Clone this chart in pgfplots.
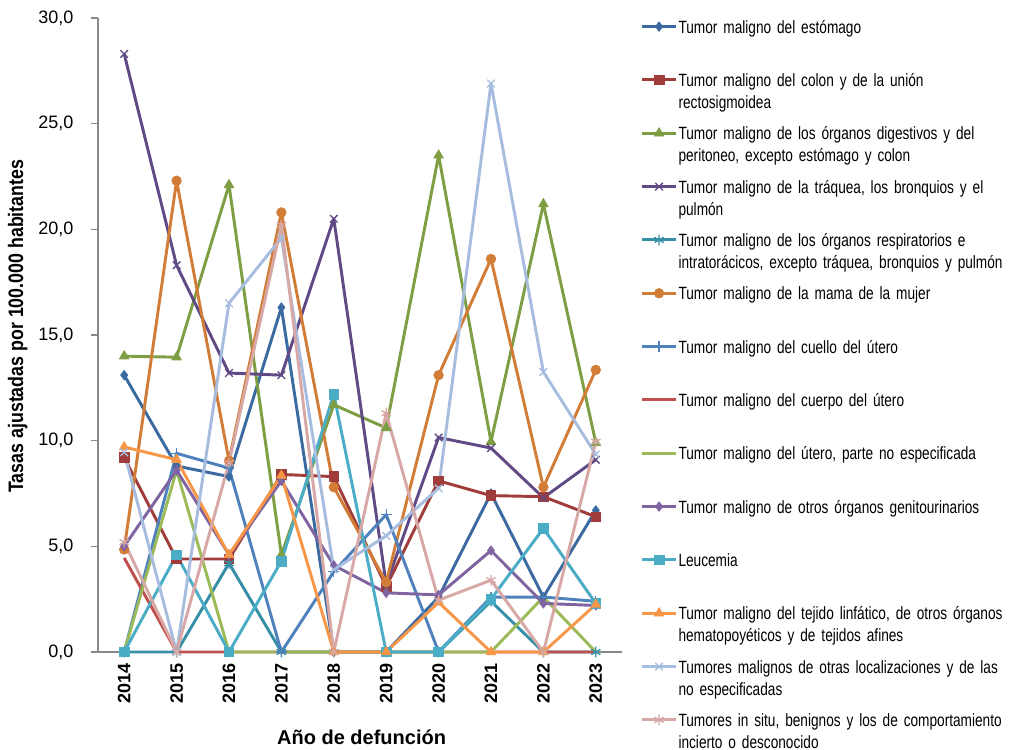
\documentclass[border=0pt]{standalone}
\usepackage{pgfplots}
\pgfplotsset{compat=1.18}
\usepackage{fontspec}
\setmainfont{Liberation Sans}
\newfontfamily\narrow{Liberation Sans}[FakeStretch=0.77]
\newfontfamily\narrowb{Liberation Sans}[FakeStretch=0.85]

\definecolor{c1}{HTML}{3B6AA0}
\definecolor{c2}{HTML}{A03C3A}
\definecolor{c3}{HTML}{7E9E44}
\definecolor{c4}{HTML}{5F4A86}
\definecolor{c5}{HTML}{368FA6}
\definecolor{c6}{HTML}{D27D37}
\definecolor{c7}{HTML}{4F81BD}
\definecolor{c8}{HTML}{C0504D}
\definecolor{c9}{HTML}{9BBB59}
\definecolor{c10}{HTML}{8064A2}
\definecolor{c11}{HTML}{4BACC6}
\definecolor{c12}{HTML}{F79646}
\definecolor{c13}{HTML}{A7BDE0}
\definecolor{c14}{HTML}{D8A8A6}
\definecolor{axgray}{HTML}{888888}

\begin{document}
\begin{tikzpicture}
\useasboundingbox (-73.5pt,-73.5pt) rectangle (696pt,489pt);
\begin{axis}[
    at={(0pt,0pt)}, anchor=south west,
    scale only axis,
    width=393pt, height=475.5pt,
    xmin=2013.5, xmax=2023.5,
    ymin=0, ymax=30,
    axis x line*=bottom, axis y line*=left,
    axis line style={axgray, line width=0.8pt},
    xtick={2014,...,2023},
    xticklabels={2014,2015,2016,2017,2018,2019,2020,2021,2022,2023},
    x tick label style={rotate=90, anchor=east, font=\fontsize{13.5}{16}\selectfont\bfseries},
    major x tick style={draw=none},
    extra x ticks={2013.5,2014.5,...,2023.5},
    extra x tick labels={},
    extra x tick style={major tick length=5pt, tick style={axgray, line width=0.8pt}, tick align=outside},
    ytick={0,5,...,30},
    y tick label style={font=\fontsize{13.5}{16}\selectfont, xshift=-10pt},
    yticklabel style={/pgf/number format/.cd, fixed, fixed zerofill, precision=1, use comma, assume math mode=true},
    major y tick style={axgray, line width=0.8pt},
    tick align=outside, major tick length=5pt,
    xlabel={\bfseries Año de defunción},
    ylabel={\narrowb\bfseries Tasas ajustadas por 100.000 habitantes},
    xlabel style={font=\fontsize{15}{18}\selectfont, at={(axis description cs:0.503,-0.134)}, anchor=center},
    ylabel style={font=\fontsize{15.7}{18}\selectfont, at={(axis description cs:-0.153,0.514)}, anchor=center},
    every axis plot/.append style={line width=2.2pt, line join=round},
    legend style={at={(1.028,1.006)}, anchor=north west, draw=none, fill=none,
        font=\narrow\fontsize{13.3}{16.5}\selectfont, row sep=5.8pt,
        nodes={text width=290pt, align=left, inner sep=1pt, text height=10pt, text depth=20pt}},
    legend cell align=left,
    legend image code/.code={\path (0pt,-16pt) (0pt,16pt);
      \draw[mark repeat=2,mark phase=2] plot coordinates {(0pt,10pt)(12.5pt,10pt)(25pt,10pt)};},
    clip=false,
]
\addplot[c1, mark=diamond*, mark size=3.6pt, mark options={solid, line width=0.5pt}] coordinates {
 (2014,13.1)(2015,8.8)(2016,8.3)(2017,16.3)(2018,0)(2019,0)(2020,2.6)(2021,7.5)(2022,2.6)(2023,6.7)};
\addplot[c2, mark=square*, mark size=3.6pt, mark options={solid, line width=0.5pt}] coordinates {
 (2014,9.2)(2015,4.4)(2016,4.4)(2017,8.4)(2018,8.3)(2019,3.1)(2020,8.1)(2021,7.4)(2022,7.35)(2023,6.4)};
\addplot[c3, mark=triangle*, mark size=4.2pt, mark options={solid, line width=0.5pt}] coordinates {
 (2014,14.0)(2015,13.95)(2016,22.1)(2017,4.6)(2018,11.7)(2019,10.6)(2020,23.5)(2021,9.95)(2022,21.2)(2023,9.9)};
\addplot[c4, mark=x, mark size=4pt, mark options={solid, line width=1pt}] coordinates {
 (2014,28.3)(2015,18.3)(2016,13.2)(2017,13.1)(2018,20.5)(2019,3.2)(2020,10.15)(2021,9.65)(2022,7.3)(2023,9.1)};
\addplot[c5, mark=asterisk, mark size=4pt, mark options={solid, line width=1pt}] coordinates {
 (2014,0)(2015,0)(2016,4.2)(2017,0)(2018,0)(2019,0)(2020,0)(2021,2.4)(2022,0)(2023,0)};
\addplot[c6, mark=*, mark size=3.6pt, mark options={solid, line width=0.5pt}] coordinates {
 (2014,4.85)(2015,22.3)(2016,9.05)(2017,20.8)(2018,7.8)(2019,3.3)(2020,13.1)(2021,18.6)(2022,7.8)(2023,13.35)};
\addplot[c7, mark=+, mark size=4pt, mark options={solid, line width=1pt}] coordinates {
 (2014,0)(2015,9.4)(2016,8.7)(2017,0)(2018,3.8)(2019,6.5)(2020,0)(2021,2.6)(2022,2.6)(2023,2.4)};
\addplot[c8, no marks] coordinates {
 (2014,4.45)(2015,0)(2016,0)(2017,0)(2018,0)(2019,0)(2020,0)(2021,0)(2022,0)(2023,0)};
\addplot[c9, no marks] coordinates {
 (2014,0)(2015,8.6)(2016,0)(2017,0)(2018,0)(2019,0)(2020,0)(2021,0)(2022,2.6)(2023,0)};
\addplot[c10, mark=diamond*, mark size=3.6pt, mark options={solid, line width=0.5pt}] coordinates {
 (2014,5.0)(2015,8.6)(2016,4.6)(2017,8.1)(2018,4.1)(2019,2.8)(2020,2.7)(2021,4.8)(2022,2.3)(2023,2.2)};
\addplot[c11, mark=square*, mark size=3.6pt, mark options={solid, line width=0.5pt}] coordinates {
 (2014,0)(2015,4.6)(2016,0)(2017,4.3)(2018,12.2)(2019,0)(2020,0)(2021,2.5)(2022,5.85)(2023,2.3)};
\addplot[c12, mark=triangle*, mark size=4.2pt, mark options={solid, line width=0.5pt}] coordinates {
 (2014,9.7)(2015,9.1)(2016,4.6)(2017,8.35)(2018,0)(2019,0)(2020,2.35)(2021,0)(2022,0)(2023,2.25)};
\addplot[c13, mark=x, mark size=4pt, mark options={solid, line width=1pt}] coordinates {
 (2014,9.45)(2015,0)(2016,16.5)(2017,19.6)(2018,3.9)(2019,5.5)(2020,7.75)(2021,26.9)(2022,13.25)(2023,9.35)};
\addplot[c14, mark=asterisk, mark size=4pt, mark options={solid, line width=1pt}] coordinates {
 (2014,5.2)(2015,0)(2016,8.95)(2017,20.2)(2018,0)(2019,11.3)(2020,2.45)(2021,3.4)(2022,0)(2023,9.95)};
\legend{
 {Tumor maligno del estómago},
 {Tumor maligno del colon y de la unión\\rectosigmoidea},
 {Tumor maligno de los órganos digestivos y del\\peritoneo, excepto estómago y colon},
 {Tumor maligno de la tráquea, los bronquios y el\\pulmón},
 {Tumor maligno de los órganos respiratorios e\\intratorácicos, excepto tráquea, bronquios y pulmón},
 {Tumor maligno de la mama de la mujer},
 {Tumor maligno del cuello del útero},
 {Tumor maligno del cuerpo del útero},
 {Tumor maligno del útero, parte no especificada},
 {Tumor maligno de otros órganos genitourinarios},
 {Leucemia},
 {Tumor maligno del tejido linfático, de otros órganos\\hematopoyéticos y de tejidos afines},
 {Tumores malignos de otras localizaciones y de las\\no especificadas},
 {Tumores in situ, benignos y los de comportamiento\\incierto o desconocido}}
\end{axis}
\end{tikzpicture}
\end{document}
